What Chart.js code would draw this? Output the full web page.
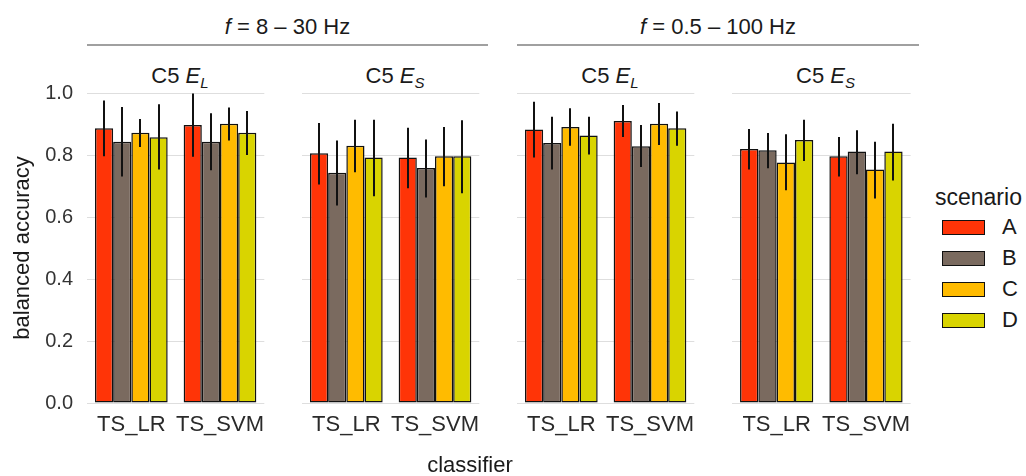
<!DOCTYPE html>
<html lang="en">
<head>
  <meta charset="UTF-8" />
  <title>balanced accuracy by classifier</title>
  <script src="https://cdn.jsdelivr.net/npm/chart.js"></script>
  <style>
    body { margin: 0; background: #fff; font-family: 'Liberation Sans', Arial, sans-serif; color: #1a1a1a; }
    #wrap { position: relative; width: 1026px; height: 476px; overflow: hidden; }
    .panel { position: absolute; top: 0; }
    .hdr { position: absolute; text-align: center; font-size: 22px; line-height: 26px; }
    .hline { position: absolute; height: 0; border-top: 2px solid #a0a0a0; }
    .strip { position: absolute; text-align: center; font-size: 22px; line-height: 28px; }
    .strip sub { font-size: 15px; font-style: italic; vertical-align: -5px; line-height: 0; }
    #xtitle { position: absolute; left: 400px; width: 140px; top: 452px; line-height: 26px; text-align: center; font-size: 22px; }
    #legend { position: absolute; left: 935px; top: 184px; }
    #legend .ttl { font-size: 23px; line-height: 26px; height: 26px; margin-bottom: 1.5px; }
    #legend .item { display: flex; align-items: center; height: 31px; margin-left: 7px; }
    #legend .sw { width: 41px; height: 13px; border: 1.5px solid #111; }
    #legend .lab { font-size: 22px; margin-left: 17px; }
  </style>
</head>
<body>
<div id="wrap">
  <div class="hdr" style="left:87px;width:401px;top:14px;"><i>f</i> = 8 – 30 Hz</div>
  <div class="hline" style="left:87px;width:401px;top:44px;"></div>
  <div class="hdr" style="left:517px;width:402px;top:14px;"><i>f</i> = 0.5 – 100 Hz</div>
  <div class="hline" style="left:517px;width:402px;top:44px;"></div>

  <div class="strip" style="left:87px;width:186px;top:62px;">C5 <i>E</i><sub>L</sub></div>
  <div class="strip" style="left:302px;width:186px;top:62px;">C5 <i>E</i><sub>S</sub></div>
  <div class="strip" style="left:517px;width:186px;top:62px;">C5 <i>E</i><sub>L</sub></div>
  <div class="strip" style="left:732px;width:187px;top:62px;">C5 <i>E</i><sub>S</sub></div>

  <canvas id="p1" class="panel" width="273" height="476" style="left:0px;"></canvas>
  <canvas id="p2" class="panel" width="186" height="476" style="left:302px;"></canvas>
  <canvas id="p3" class="panel" width="186" height="476" style="left:517px;"></canvas>
  <canvas id="p4" class="panel" width="187" height="476" style="left:732px;"></canvas>

  <div id="xtitle">classifier</div>
  <div id="legend"></div>
</div>

<script>
  // categories and series
  const classifiers = ['TS_LR', 'TS_SVM'];
  const scenarios = ['A', 'B', 'C', 'D'];
  const colors = ['#ff3407', '#7a6a5f', '#ffbb00', '#d9d400'];
  const yTicks = [0, 0.2, 0.4, 0.6, 0.8, 1.0];

  // rows = scenarios A-D, columns = TS_LR, TS_SVM
  // f = 8-30 Hz, C5 E_L
  const p1Mean = [[0.886, 0.897], [0.843, 0.843], [0.872, 0.901], [0.857, 0.872]];
  const p1Low  = [[0.796, 0.794], [0.731, 0.751], [0.826, 0.847], [0.753, 0.800]];
  const p1High = [[0.976, 0.998], [0.955, 0.935], [0.916, 0.953], [0.964, 0.942]];
  // f = 8-30 Hz, C5 E_S
  const p2Mean = [[0.806, 0.792], [0.743, 0.758], [0.830, 0.796], [0.792, 0.796]];
  const p2Low  = [[0.705, 0.693], [0.637, 0.663], [0.744, 0.699], [0.667, 0.677]];
  const p2High = [[0.903, 0.888], [0.847, 0.850], [0.914, 0.890], [0.914, 0.912]];
  // f = 0.5-100 Hz, C5 E_L
  const p3Mean = [[0.882, 0.910], [0.839, 0.828], [0.890, 0.901], [0.863, 0.886]];
  const p3Low  = [[0.792, 0.858], [0.753, 0.761], [0.830, 0.832], [0.802, 0.830]];
  const p3High = [[0.972, 0.961], [0.923, 0.897], [0.951, 0.968], [0.923, 0.940]];
  // f = 0.5-100 Hz, C5 E_S
  const p4Mean = [[0.819, 0.796], [0.815, 0.811], [0.776, 0.753], [0.848, 0.811]];
  const p4Low  = [[0.753, 0.731], [0.757, 0.738], [0.686, 0.660], [0.781, 0.718]];
  const p4High = [[0.884, 0.858], [0.871, 0.880], [0.867, 0.843], [0.914, 0.901]];

  const FONT = "'Liberation Sans', Arial, sans-serif";

  // error bars drawn from each dataset's low/high arrays
  const errorBars = {
    id: 'errorBars',
    afterDatasetsDraw(chart) {
      const ctx = chart.ctx;
      const y = chart.scales.y;
      ctx.save();
      ctx.strokeStyle = '#111';
      ctx.lineWidth = 2;
      chart.data.datasets.forEach((ds, i) => {
        const meta = chart.getDatasetMeta(i);
        meta.data.forEach((bar, j) => {
          const x = Math.round(bar.x);
          ctx.beginPath();
          ctx.moveTo(x, y.getPixelForValue(ds.low[j]));
          ctx.lineTo(x, y.getPixelForValue(ds.high[j]));
          ctx.stroke();
        });
      });
      ctx.restore();
    }
  };

  function makePanel(id, mean, low, high, withAxis) {
    new Chart(document.getElementById(id), {
      type: 'bar',
      data: {
        labels: classifiers,
        datasets: scenarios.map((s, i) => ({
          label: s,
          data: mean[i],
          low: low[i],
          high: high[i],
          backgroundColor: colors[i],
          borderColor: '#111',
          borderWidth: 1.5,
          borderSkipped: false,
          categoryPercentage: 0.82,
          barPercentage: 1.0
        }))
      },
      options: {
        responsive: false,
        animation: false,
        layout: { padding: { top: 93, right: 0, left: withAxis ? 10 : 0, bottom: 0 } },
        plugins: { legend: { display: false }, tooltip: { enabled: false } },
        scales: {
          x: {
            grid: { display: false, drawTicks: false },
            border: { display: false },
            ticks: {
              color: '#2a2a2a',
              font: { family: FONT, size: 22 },
              padding: 9,
              maxRotation: 0,
              minRotation: 0,
              autoSkip: false
            },
            afterFit: s => { s.height = 73; }
          },
          y: {
            min: 0, max: 1,
            afterBuildTicks: s => { s.ticks = yTicks.map(v => ({ value: v })); },
            grid: { color: '#dedede', lineWidth: 1, drawTicks: false },
            border: { display: false },
            ticks: {
              display: withAxis,
              color: '#333',
              font: { family: FONT, size: 20 },
              padding: 14,
              callback: v => v.toFixed(1)
            },
            title: {
              display: withAxis,
              text: 'balanced accuracy',
              color: '#1a1a1a',
              font: { family: FONT, size: 22 },
              padding: { top: 0, bottom: 4 }
            },
            afterFit: s => { s.width = withAxis ? 77 : 0; }
          }
        }
      },
      plugins: [errorBars]
    });
  }

  makePanel('p1', p1Mean, p1Low, p1High, true);
  makePanel('p2', p2Mean, p2Low, p2High, false);
  makePanel('p3', p3Mean, p3Low, p3High, false);
  makePanel('p4', p4Mean, p4Low, p4High, false);

  // legend
  const leg = document.getElementById('legend');
  leg.innerHTML = '<div class="ttl">scenario</div>' + scenarios.map((s, i) =>
    `<div class="item"><div class="sw" style="background:${colors[i]}"></div><div class="lab">${s}</div></div>`
  ).join('');
</script>
</body>
</html>
